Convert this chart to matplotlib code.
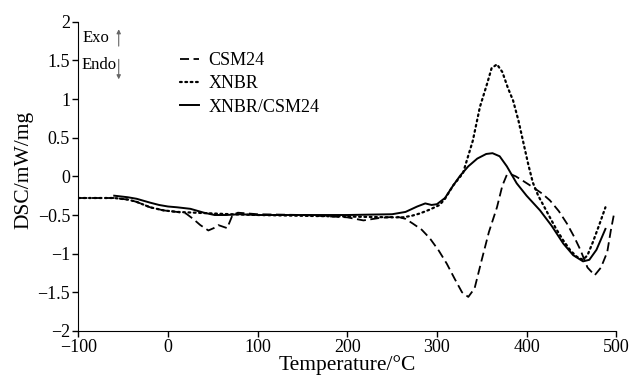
import numpy as np
import matplotlib
matplotlib.use("Agg")
import matplotlib.pyplot as plt

plt.rcParams['font.family'] = ['Liberation Serif', 'DejaVu Serif']

# CSM24 (dashed)
csm_t = [-100, -80, -60, -45, -35, -20, -5, 10, 20, 28, 36, 45, 51, 56, 61, 66, 72, 78,
         100, 150, 200, 218, 235, 255, 265, 273, 283, 292, 302, 311, 320, 328, 335, 342,
         350, 358, 367, 373, 378, 382, 388, 395, 407, 417, 426, 436, 445, 453, 460, 468,
         476, 483, 490, 494, 498]
csm_dsc = [-0.28, -0.28, -0.28, -0.30, -0.33, -0.40, -0.44, -0.46, -0.48, -0.55, -0.63, -0.70,
           -0.67, -0.63, -0.65, -0.67, -0.50, -0.47, -0.49, -0.50, -0.53, -0.57, -0.54, -0.52,
           -0.55, -0.61, -0.69, -0.80, -0.96, -1.13, -1.33, -1.50, -1.56, -1.45, -1.08, -0.72,
           -0.40, -0.12, 0.02, 0.03, 0.00, -0.05, -0.14, -0.22, -0.31, -0.45, -0.61, -0.78,
           -0.95, -1.18, -1.28, -1.18, -0.98, -0.70, -0.46]

# XNBR (dotted)
xnbr_t = [-100, -80, -60, -45, -35, -20, -5, 10, 30, 50, 70, 100, 150, 200, 250, 262, 272,
          281, 292, 303, 309, 318, 329, 340, 348, 356, 361, 367, 373, 379, 385, 391, 396,
          402, 407, 413, 420, 426, 433, 441, 449, 456, 463, 468, 474, 481, 488]
xnbr_dsc = [-0.28, -0.28, -0.28, -0.30, -0.33, -0.40, -0.44, -0.46, -0.47, -0.48, -0.49,
            -0.50, -0.51, -0.52, -0.53, -0.53, -0.51, -0.48, -0.43, -0.37, -0.29, -0.12,
            0.04, 0.46, 0.90, 1.20, 1.40, 1.45, 1.35, 1.15, 0.98, 0.72, 0.46, 0.15, -0.08,
            -0.25, -0.40, -0.53, -0.68, -0.83, -0.96, -1.04, -1.08, -1.02, -0.85, -0.63, -0.40]

# XNBR/CSM24 (solid)
blend_t = [-60, -45, -35, -20, -10, 0, 10, 25, 40, 52, 65, 80, 100, 150, 200, 250, 265, 278,
           287, 294, 300, 309, 318, 326, 335, 345, 355, 362, 370, 378, 389, 400, 415, 428,
           441, 452, 463, 470, 478, 488]
blend_dsc = [-0.25, -0.27, -0.29, -0.34, -0.37, -0.39, -0.40, -0.42, -0.47, -0.50, -0.50,
             -0.49, -0.50, -0.50, -0.50, -0.49, -0.46, -0.39, -0.35, -0.37, -0.36, -0.28,
             -0.12, 0.01, 0.13, 0.23, 0.29, 0.30, 0.26, 0.13, -0.09, -0.25, -0.44, -0.64,
             -0.87, -1.02, -1.10, -1.08, -0.95, -0.68]

xticks = [-100, 0, 100, 200, 300, 400, 500]
yticks = [-2, -1.5, -1, -0.5, 0, 0.5, 1, 1.5, 2]
ytick_labels = ['\u22122', '\u22121.5', '\u22121', '\u22120.5', '0', '0.5', '1', '1.5', '2']
xtick_labels = ['\u2212100', '0', '100', '200', '300', '400', '500']

fig = plt.figure(figsize=(6.32, 3.83), dpi=100)
ax = fig.add_axes([0.124, 0.136, 0.851, 0.807])

ax.plot(csm_t, csm_dsc, color='black', lw=1.3, ls=(0, (5, 2.5)), label='CSM24')
ax.plot(xnbr_t, xnbr_dsc, color='black', lw=1.6, ls=(0, (0.8, 1.6)),
        dash_capstyle='round', label='XNBR')
ax.plot(blend_t, blend_dsc, color='black', lw=1.4, label='XNBR/CSM24')

ax.set_xlim(-100, 500)
ax.set_ylim(-2, 2)
ax.set_xticks(xticks)
ax.set_xticklabels(xtick_labels)
ax.set_yticks(yticks)
ax.set_yticklabels(ytick_labels)
ax.tick_params(labelsize=13, direction='out', length=4, width=1, pad=2)
for s in ['top', 'right']:
    ax.spines[s].set_visible(False)
ax.set_xlabel('Temperature/\u00b0C', fontsize=15.5, labelpad=-1)
ax.set_ylabel('DSC/mW/mg', fontsize=15.5)
ax.yaxis.set_label_coords(-0.083, 0.52)

leg = ax.legend(loc='upper left', bbox_to_anchor=(0.158, 0.955), frameon=False,
                fontsize=13, handlelength=1.1, handletextpad=0.5, labelspacing=0.35)

# Exo / Endo marker
ax.text(-95, 1.79, 'Exo', fontsize=12, va='center', ha='left')
ax.text(-96, 1.44, 'Endo', fontsize=12, va='center', ha='left')
ax.annotate('', xy=(-55, 1.94), xytext=(-55, 1.65),
            arrowprops=dict(arrowstyle='-|>', color='0.4', lw=0.8, mutation_scale=6))
ax.annotate('', xy=(-55, 1.22), xytext=(-55, 1.55),
            arrowprops=dict(arrowstyle='-|>', color='0.4', lw=0.8, mutation_scale=6))

fig.savefig('out.png', dpi=100)
